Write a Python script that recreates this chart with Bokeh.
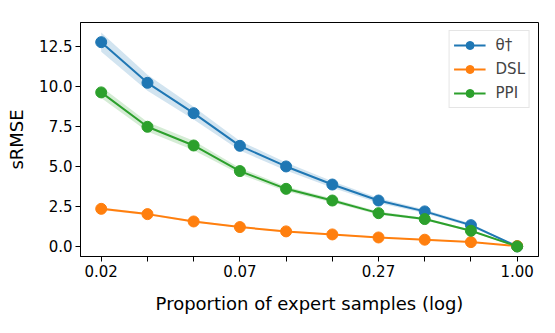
from bokeh.plotting import figure
from bokeh.models import (Range1d, FixedTicker, Legend, LegendItem,
                          CustomJSTickFormatter, PrintfTickFormatter)
from bokeh.embed import file_html
from bokeh.resources import INLINE

# proportion of expert samples (log-spaced)
proportion = [0.02, 0.0309, 0.0477, 0.0737, 0.1138, 0.1758, 0.2714, 0.4191, 0.6472, 1.0]
x_tick_labels = ["0.02", "", "", "0.07", "", "", "0.27", "", "", "1.00"]
y_ticks = [0.0, 2.5, 5.0, 7.5, 10.0, 12.5]

theta_mean = [12.77, 10.23, 8.33, 6.29, 5.00, 3.87, 2.87, 2.19, 1.33, 0.00]
theta_err = [0.60, 0.50, 0.40, 0.30, 0.25, 0.20, 0.15, 0.12, 0.10, 0.02]
dsl_mean = [2.35, 2.02, 1.56, 1.21, 0.94, 0.75, 0.56, 0.42, 0.27, 0.02]
dsl_err = [0.08, 0.07, 0.06, 0.05, 0.05, 0.05, 0.04, 0.04, 0.03, 0.01]
ppi_mean = [9.63, 7.48, 6.31, 4.71, 3.60, 2.87, 2.08, 1.71, 0.98, 0.00]
ppi_err = [0.35, 0.30, 0.30, 0.20, 0.15, 0.12, 0.10, 0.08, 0.06, 0.02]

labels = ["θ†", "DSL", "PPI"]
colors = ["#1f77b4", "#ff7f0e", "#2ca02c"]

FONT = "DejaVu Sans"

p = figure(width=539, height=317, x_axis_type="log",
           x_range=Range1d(0.01646, 1.222), y_range=Range1d(-0.63, 14.0),
           output_backend="svg", toolbar_location=None,
           min_border_left=80, min_border_right=1,
           min_border_top=22, min_border_bottom=61)

p.xgrid.visible = False
p.ygrid.visible = False
p.outline_line_color = "black"
p.outline_line_width = 1
p.outline_line_alpha = 1.0

items = []
for lab, col, m, e in zip(labels, colors,
                          [theta_mean, dsl_mean, ppi_mean],
                          [theta_err, dsl_err, ppi_err]):
    lo = [a - b for a, b in zip(m, e)]
    hi = [a + b for a, b in zip(m, e)]
    p.varea(x=proportion, y1=lo, y2=hi, fill_color=col, fill_alpha=0.2)
for lab, col, m in zip(labels, colors, [theta_mean, dsl_mean, ppi_mean]):
    ln = p.line(proportion, m, line_color=col, line_width=2)
    sc = p.scatter(proportion, m, size=11, fill_color=col, line_color=col)
    items.append(LegendItem(label=lab, renderers=[ln, sc]))

legend = Legend(items=items, location="top_right",
                label_text_font=FONT, label_text_font_size="15px",
                glyph_width=32, glyph_height=20, label_height=20,
                label_standoff=10, spacing=4, padding=4, margin=8,
                border_line_color="#cccccc", border_line_width=1,
                background_fill_color="white", background_fill_alpha=0.8)
p.add_layout(legend)

# x axis
xa = p.xaxis[0]
xa.ticker = FixedTicker(ticks=proportion, minor_ticks=[])
xa.formatter = CustomJSTickFormatter(
    args=dict(tvals=proportion, labs=x_tick_labels),
    code="""
    let best = -1, bd = 1e9;
    for (let i = 0; i < tvals.length; i++) {
        const d = Math.abs(Math.log(tvals[i]) - Math.log(tick));
        if (d < bd) { bd = d; best = i; }
    }
    return bd < 1e-3 ? labs[best] : "";
    """)
xa.axis_label = "Proportion of expert samples (log)"
xa.axis_label_standoff = 13

ya = p.yaxis[0]
ya.ticker = FixedTicker(ticks=y_ticks, minor_ticks=[])
ya.formatter = PrintfTickFormatter(format="%.1f")
ya.axis_label = "sRMSE"
ya.axis_label_standoff = 9

for ax in (xa, ya):
    ax.major_label_text_font = FONT
    ax.major_label_text_font_size = "15px"
    ax.major_label_text_color = "black"
    ax.axis_label_text_font = FONT
    ax.axis_label_text_font_size = "18px"
    ax.axis_label_text_font_style = "normal"
    ax.axis_label_text_color = "black"
    ax.axis_line_color = "black"
    ax.major_tick_line_color = "black"
    ax.major_tick_out = 5
    ax.major_tick_in = 0
    ax.minor_tick_line_color = None
    ax.major_label_standoff = 3

open("out.html", "w").write(file_html(p, INLINE))
